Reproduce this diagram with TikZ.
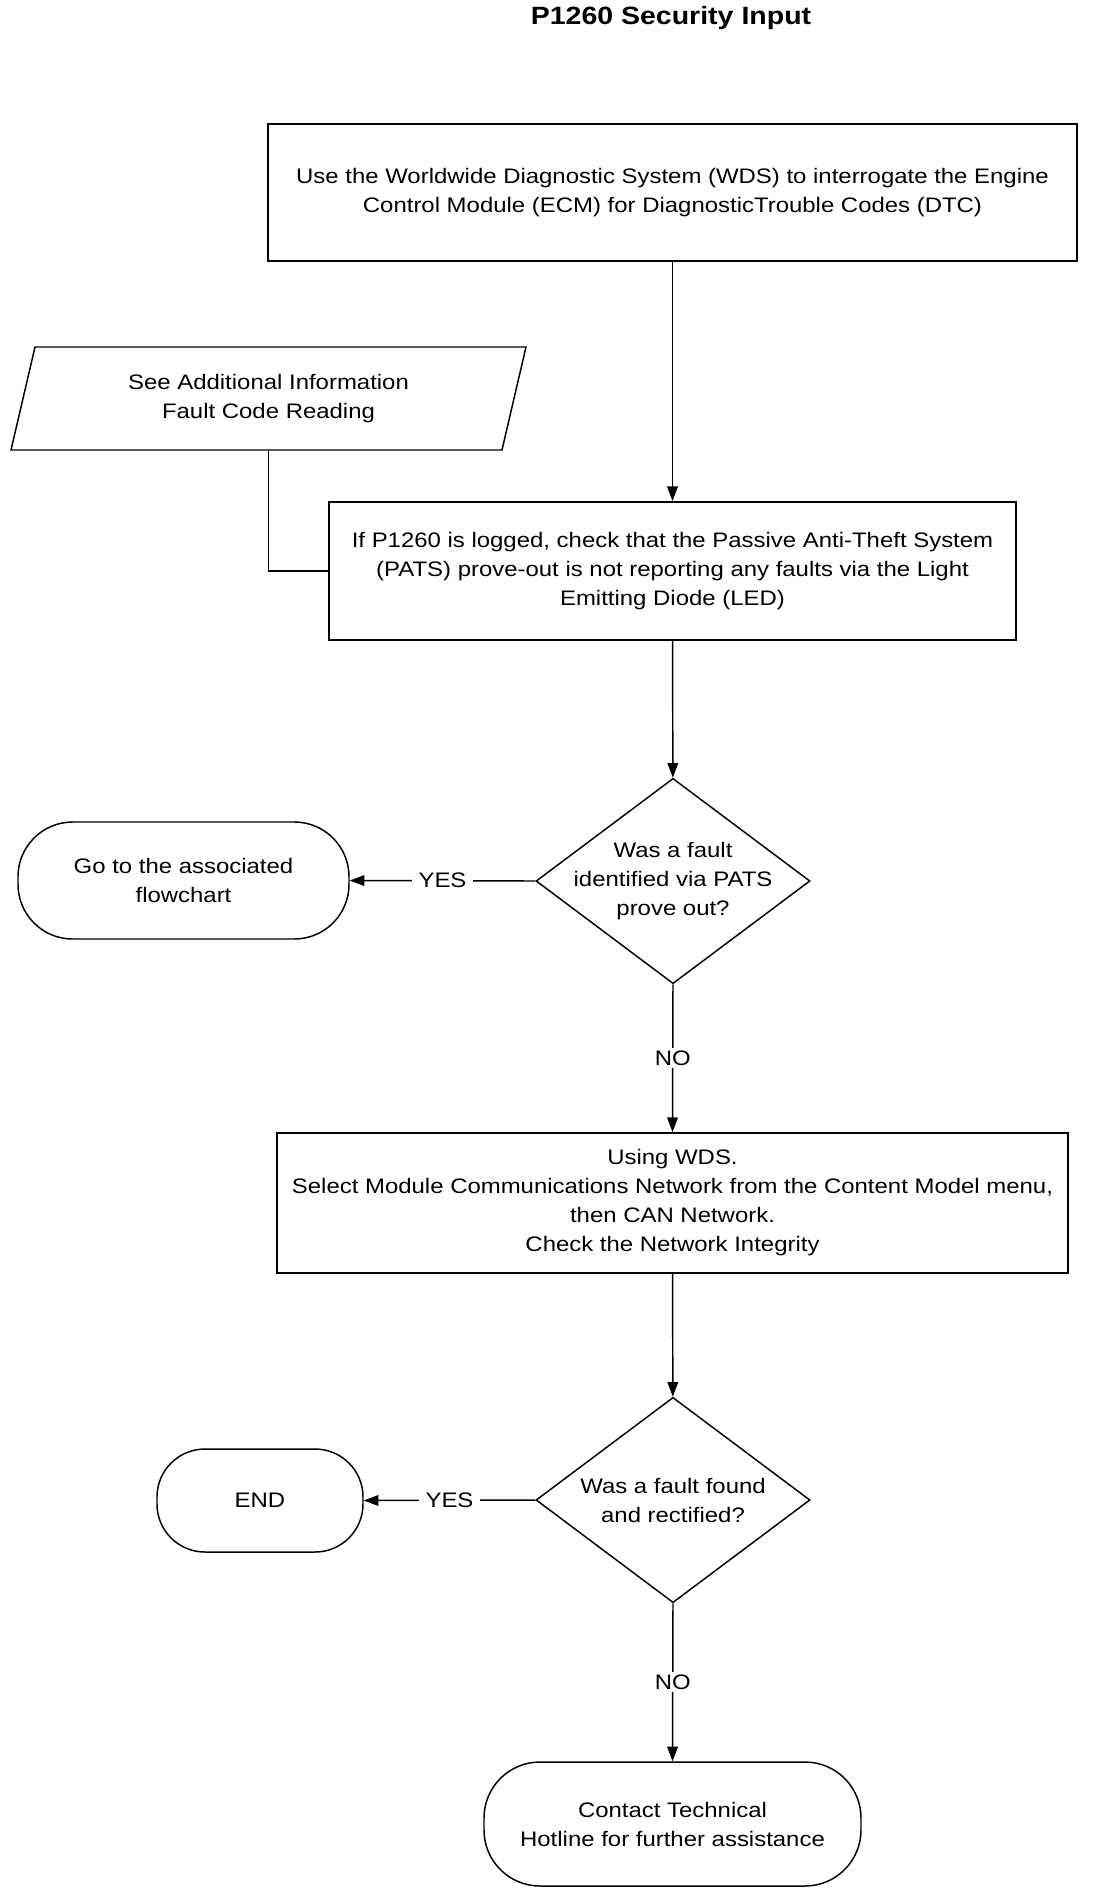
\documentclass[tikz,border=0pt]{standalone}
\usepackage{fontspec}
\setmainfont{Liberation Sans}[FakeStretch=1.14]
\usetikzlibrary{shapes.geometric,arrows.meta}

\newcommand{\flowfont}{\fontsize{15.75}{21.75}\selectfont}
\newcommand{\titlefont}{\fontsize{18.75}{22}\selectfont\bfseries}

\tikzset{every picture/.style={line width=1.1pt}}
\tikzset{
  process/.style={draw, line width=1.3pt, align=center, inner sep=0pt, font=\flowfont},
  decision/.style={draw, diamond, line width=1.1pt, align=center, inner sep=-40pt,
    minimum width=205.5pt, minimum height=154pt, font=\flowfont},
  terminal/.style={draw, rectangle, line width=1.1pt, align=center, inner sep=0pt, font=\flowfont},
  datain/.style={draw, trapezium, trapezium left angle=63.7, trapezium right angle=116.3,
    trapezium stretches body=true, line width=1.1pt, align=center, inner sep=0pt, font=\flowfont},
  arr/.style={-{Triangle[length=11pt,width=8pt]}},
  lbl/.style={fill=white, inner xsep=5pt, inner ysep=2pt, font=\flowfont},
}

\begin{document}
\begin{tikzpicture}[x=0.75pt,y=0.75pt,yscale=-1,xscale=1]
\useasboundingbox (0,0) rectangle (1120,1900);

% Text Node
\node (title) at (671,18) [font=\titlefont] {P1260 Security Input};

%Flowchart: Process
\node (wds) at (672.5,192.5) [process, minimum width=606.75pt, minimum height=102.75pt]
  {Use the Worldwide Diagnostic System (WDS) to interrogate the Engine\\Control Module (ECM) for DiagnosticTrouble Codes (DTC)};
%Flowchart: Data
\node (addinfo) at (268.5,398.5) [datain, minimum width=386.25pt, minimum height=77.25pt]
  {See Additional Information\\Fault Code Reading};
%Flowchart: Process
\node (pats) at (672.5,571) [process, minimum width=515.25pt, minimum height=103.5pt]
  {If P1260 is logged, check that the Passive Anti-Theft System\\(PATS) prove-out is not reporting any faults via the Light\\Emitting Diode (LED)};
%Flowchart: Decision
\node (faultpats) at (673,881) [decision] {Was a fault\\identified via PATS\\prove out?};
%Flowchart: Terminator
\node (goflow) at (183.5,880.5) [terminal, minimum width=248.25pt, minimum height=87.75pt, rounded corners=41pt]
  {Go to the associated\\flowchart};
%Flowchart: Process
\node (network) at (672.5,1203) [process, minimum width=593.25pt, minimum height=105pt]
  {Using WDS.\\Select Module Communications Network from the Content Model menu,\\then CAN Network.\\Check the Network Integrity};
%Flowchart: Decision
\node (faultfix) at (673,1500) [decision] {Was a fault found\\and rectified?};
%Flowchart: Terminator
\node (endt) at (260,1500.5) [terminal, minimum width=154.5pt, minimum height=77.25pt, rounded corners=36pt] {END};
%Flowchart: Terminator
\node (hotline) at (672.5,1824) [terminal, minimum width=282.75pt, minimum height=93pt, rounded corners=42pt]
  {Contact Technical\\Hotline for further assistance};

%Straight Lines
\draw [arr] (wds) -- (pats);
\draw (addinfo.south) |- (pats.west);
\draw [arr] (pats) -- (faultpats);
\draw [arr] (faultpats.west) -- node [lbl] {YES} (goflow.east);
\draw [arr] (faultpats.south) -- node [lbl] {NO} (network.north);
\draw [arr] (network) -- (faultfix);
\draw [arr] (faultfix.west) -- node [lbl] {YES} (endt.east);
\draw [arr] (faultfix.south) -- node [lbl] {NO} (hotline.north);

\end{tikzpicture}
\end{document}
